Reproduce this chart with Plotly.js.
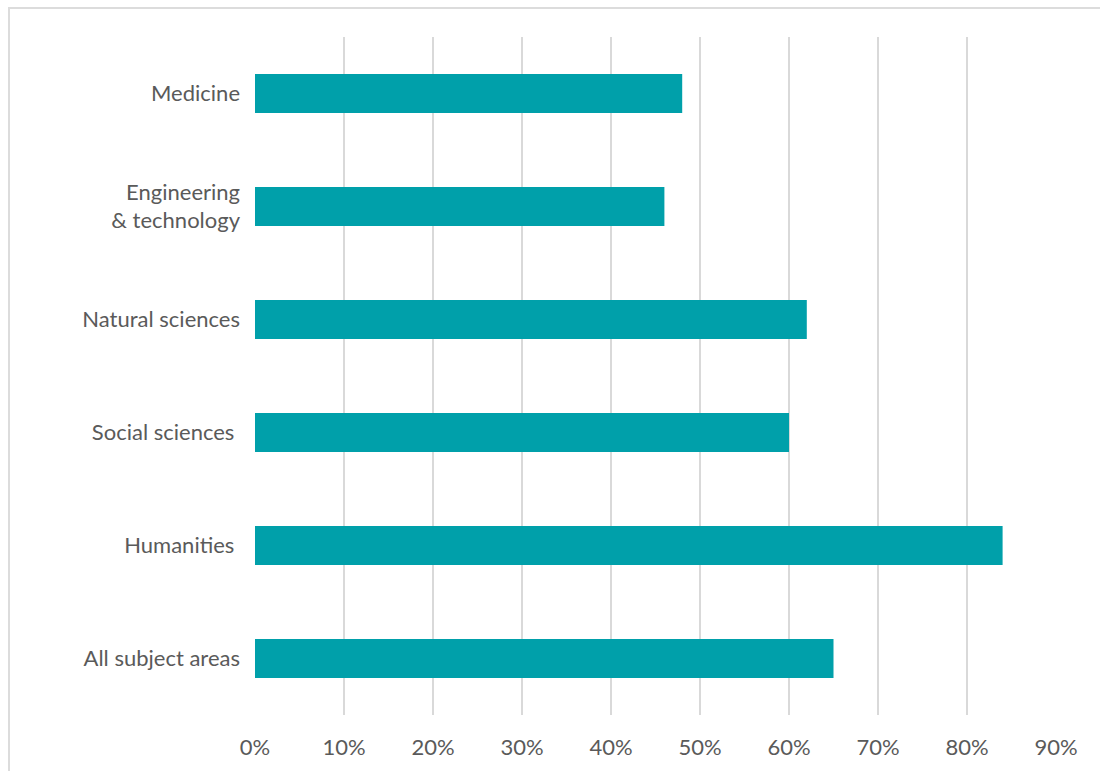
<!DOCTYPE html>
<html>
<head>
<meta charset="utf-8">
<script src="https://cdn.plot.ly/plotly-3.0.1.min.js"></script>
<style>
  html, body { margin: 0; padding: 0; background: #fff; }
  #frame { position: absolute; left: 8px; top: 7px; width: 1092px; height: 764px;
           border-left: 2px solid #dcdcdc; border-top: 2px solid #dcdcdc; box-sizing: border-box; }
  #chart { position: absolute; left: 0; top: 0; width: 1100px; height: 771px; }
</style>
</head>
<body>
<div id="frame"></div>
<div id="chart"></div>
<script>
const categories = [
  "All subject areas",
  "Humanities\u00A0",
  "Social sciences\u00A0",
  "Natural sciences",
  "Engineering<br>& technology",
  "Medicine"
];
const values = [0.65, 0.84, 0.60, 0.62, 0.46, 0.48];
const tickValues = [0, 0.1, 0.2, 0.3, 0.4, 0.5, 0.6, 0.7, 0.8, 0.9];
const tickLabels = ["0%", "10%", "20%", "30%", "40%", "50%", "60%", "70%", "80%", "90%"];

const trace = {
  type: "bar",
  orientation: "h",
  x: values,
  y: categories,
  marker: { color: "#00A0AA" },
  hoverinfo: "none"
};

const layout = {
  width: 1100,
  height: 771,
  paper_bgcolor: "rgba(0,0,0,0)",
  plot_bgcolor: "rgba(0,0,0,0)",
  margin: { l: 255, r: 44, t: 37, b: 56 },
  bargap: 0.655,
  showlegend: false,
  font: { family: "Lato, 'Open Sans', sans-serif", size: 22, color: "#5a5a5a" },
  xaxis: {
    range: [0, 0.9],
    tickvals: tickValues,
    ticktext: tickLabels,
    showgrid: true,
    gridcolor: "#d9d9d9",
    gridwidth: 2,
    zeroline: false,
    showline: false,
    ticks: "",
    ticklabelstandoff: 17,
    fixedrange: true
  },
  yaxis: {
    type: "category",
    categoryorder: "array",
    categoryarray: categories,
    showgrid: false,
    zeroline: false,
    showline: false,
    ticks: "",
    ticklabelstandoff: 14,
    fixedrange: true
  }
};

Plotly.newPlot("chart", [trace], layout, { displayModeBar: false, staticPlot: true });
</script>
</body>
</html>
